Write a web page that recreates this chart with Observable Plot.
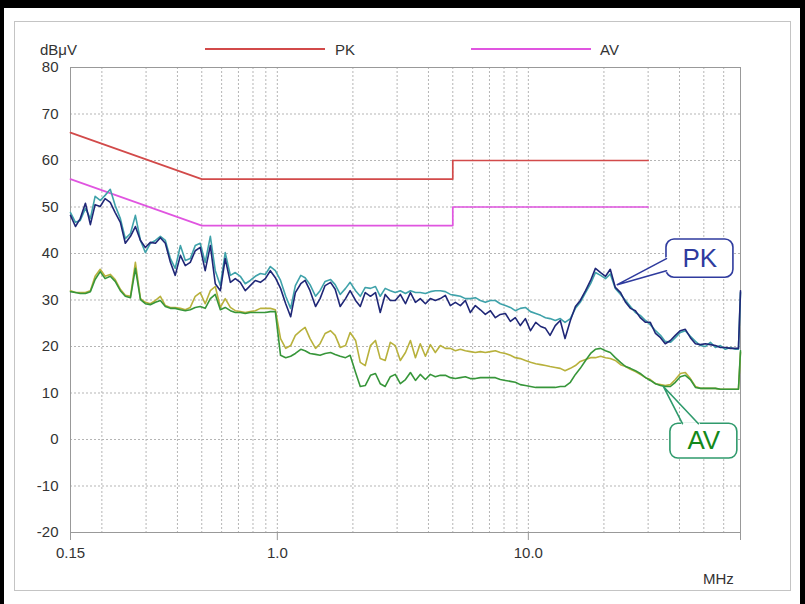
<!DOCTYPE html>
<html><head><meta charset="utf-8">
<script src="https://cdn.jsdelivr.net/npm/d3@7"></script>
<script src="https://cdn.jsdelivr.net/npm/@observablehq/plot@0.6"></script>
<style>
body{margin:0;background:#fff;}
#wrap{position:relative;width:805px;height:604px;overflow:hidden;background:#fff;font-family:'Liberation Sans Narrow','Liberation Sans',Arial,sans-serif;color:#333;}
.bar{position:absolute;background:#000;}
#panel{position:absolute;left:14px;top:21px;width:777px;height:570px;border:1px solid #c4c4c4;box-sizing:border-box;}
#chart{position:absolute;left:0;top:0;}
.lab{position:absolute;font-size:15px;line-height:1;white-space:nowrap;}
.sw{position:absolute;height:2px;}
</style></head><body>
<div id="wrap">
  <div class="bar" style="left:0;top:0;width:805px;height:8px"></div>
  <div class="bar" style="left:0;top:0;width:4px;height:604px"></div>
  <div class="bar" style="left:800px;top:0;width:5px;height:604px"></div>
  <div id="panel"></div>
  <div id="chart"></div>
  <div class="lab" style="left:40px;top:42px">dBμV</div>
  <div class="sw" style="left:205px;top:48px;width:120px;background:#d24a4a"></div>
  <div class="lab" style="left:335px;top:42px">PK</div>
  <div class="sw" style="left:471px;top:48px;width:120px;background:#e055e0"></div>
  <div class="lab" style="left:600px;top:42px">AV</div>
  <div class="lab" style="left:703px;top:571px">MHz</div>
</div>
<script>
// ---- data (MHz, dBµV) ----
const freqMHz = [
0.150,0.157,0.164,0.172,0.180,0.188,0.197,0.206,0.216,0.226,
0.237,0.248,0.260,0.272,0.285,0.298,0.312,0.327,0.342,0.358,
0.375,0.392,0.411,0.430,0.450,0.471,0.493,0.516,0.541,0.566,
0.593,0.620,0.650,0.680,0.712,0.745,0.780,0.817,0.856,0.896,
0.938,0.982,1.03,1.08,1.13,1.18,1.24,1.29,1.35,1.42,
1.48,1.55,1.63,1.70,1.78,1.87,1.95,2.05,2.14,2.24,
2.35,2.46,2.57,2.69,2.82,2.95,3.09,3.24,3.39,3.55,
3.71,3.89,4.07,4.26,4.46,4.67,4.89,5.12,5.36,5.61,
5.87,6.15,6.44,6.74,7.06,7.39,7.73,8.10,8.48,8.87,
9.29,9.73,10.2,10.7,11.2,11.7,12.2,12.8,13.4,14.0,
14.7,15.4,16.1,16.9,17.7,18.5,19.4,20.3,21.2,22.2,
23.3,24.4,25.5,26.7,27.9,29.3,30.6,32.1,33.6,35.1,
36.8,38.5,40.3,42.2,44.2,46.3,48.5,50.7,53.1,55.6,
58.2,60.9,63.8,66.8,68.7,70.0];

const pkNavy = [
48.2,45.8,47.5,50.8,46.2,50.5,50.1,51.8,51.0,48.8,
46.7,42.2,43.7,45.8,42.8,41.3,42.4,42.2,43.4,42.2,
38.1,35.3,39.6,37.4,38.1,40.6,41.3,36.3,41.7,33.5,
32.0,38.9,33.8,34.6,33.8,32.0,33.1,34.2,33.8,34.6,
36.3,34.8,32.5,29.2,26.4,31.6,33.5,34.2,32.0,28.6,
30.3,33.1,33.8,32.3,28.6,30.3,32.0,29.9,28.6,31.6,
30.8,31.6,27.3,31.2,29.9,29.9,31.2,29.2,31.6,29.5,
30.3,29.2,30.3,29.9,30.3,31.0,28.8,29.5,28.8,29.9,
27.3,28.8,27.9,26.9,27.7,26.2,26.9,27.1,25.4,26.2,
24.5,26.0,23.4,25.2,24.3,23.9,22.4,24.5,25.6,21.7,
25.6,28.6,29.9,32.0,34.2,36.8,35.9,35.1,36.6,32.7,
31.6,29.5,28.2,27.7,26.2,25.2,25.2,22.8,21.9,20.6,
21.3,22.4,23.4,23.7,21.9,20.6,20.4,20.6,20.4,20.2,
19.8,19.8,19.6,19.6,19.6,32.0];

const pkTeal = [
48.8,46.7,47.1,49.7,47.5,52.3,51.4,52.5,53.8,50.3,
47.5,43.2,44.3,48.2,42.8,40.2,42.2,42.8,43.7,42.8,
38.9,36.8,41.7,38.5,38.9,41.7,42.2,38.1,43.7,36.3,
33.1,40.2,35.3,35.9,35.1,33.5,34.2,35.1,35.7,35.5,
37.2,36.3,34.2,30.8,28.2,33.1,35.3,34.8,33.3,30.8,
32.0,34.0,34.4,33.3,31.2,32.5,33.8,32.0,30.8,32.7,
32.5,32.9,30.8,32.5,32.0,31.6,32.0,31.4,32.0,31.6,
31.6,31.4,31.8,32.0,32.0,31.8,31.2,31.0,30.8,30.3,
30.3,30.5,29.9,29.5,29.9,29.9,29.2,28.8,28.4,27.7,
28.2,28.4,27.5,27.1,26.7,26.2,26.0,25.6,26.0,25.2,
26.0,28.2,29.5,31.6,33.5,35.9,35.3,34.6,35.6,32.5,
31.2,29.9,28.6,27.3,26.7,25.6,24.7,23.4,22.4,21.1,
20.9,21.9,23.0,23.4,22.2,21.1,20.2,20.0,20.9,19.8,
20.2,19.4,19.8,19.4,19.4,31.6];

const avOlive = [
32.0,31.6,31.6,31.6,32.0,35.1,36.6,35.1,35.5,34.4,
32.3,31.0,30.8,38.1,30.3,29.5,29.2,29.9,30.8,28.8,
28.4,28.4,28.2,27.9,28.4,30.8,31.6,29.2,32.0,32.9,
28.4,30.3,28.4,27.7,27.5,27.3,27.5,27.7,28.2,28.2,
28.2,27.9,21.7,19.6,20.2,22.4,23.4,24.1,21.7,19.6,
20.6,22.8,23.4,22.4,19.8,20.2,23.0,21.3,16.6,15.9,
20.2,21.3,17.4,17.0,20.9,20.2,17.0,18.7,21.3,17.6,
20.6,17.9,20.4,18.7,20.2,19.6,19.6,19.1,19.4,19.1,
18.9,18.7,18.9,18.7,18.9,19.1,18.7,18.5,18.1,17.6,
17.4,17.0,16.6,16.3,16.1,15.9,15.7,15.5,15.3,14.8,
15.3,15.9,16.8,17.2,17.6,17.6,17.9,17.6,17.4,17.0,
16.1,15.7,15.1,14.6,14.0,13.3,12.9,12.0,11.8,11.6,
11.8,12.9,14.2,14.4,13.1,11.4,11.0,11.0,11.0,11.0,
10.8,10.8,10.8,10.8,10.8,18.7];

const avGreen = [
31.8,31.6,31.4,31.4,31.8,34.4,36.1,34.6,35.1,34.0,
32.0,30.8,30.5,36.8,30.1,29.2,29.0,29.5,29.9,28.6,
28.2,28.2,27.9,27.7,27.9,28.4,28.6,28.2,30.3,31.2,
27.9,28.4,27.7,27.3,27.3,27.1,27.3,27.3,27.3,27.3,
27.5,27.5,18.1,17.6,17.9,18.5,19.4,19.1,18.5,18.3,
18.1,18.5,18.7,18.3,17.9,17.6,18.1,14.4,11.4,11.6,
13.8,14.2,12.0,11.4,13.5,14.0,12.0,12.9,14.4,12.7,
14.0,12.9,14.0,13.5,13.8,13.8,13.3,13.1,13.3,13.5,
13.1,13.1,13.3,13.3,13.3,13.3,12.9,12.7,12.5,12.3,
11.8,11.6,11.4,11.2,11.2,11.2,11.2,11.2,11.4,11.4,
12.3,14.0,15.3,17.0,18.5,19.4,19.6,19.1,18.7,17.6,
16.6,15.7,15.3,14.8,14.2,13.3,12.7,12.0,11.6,11.4,
11.4,12.3,13.5,13.8,12.9,11.2,11.0,11.0,11.0,11.0,
10.8,10.8,10.8,10.8,10.8,19.1];

const limitFreq = [0.15, 0.5, 5, 5, 30];
const limitPK = [66, 56, 56, 60, 60];
const limitAV = [56, 46, 46, 50, 50];

const gridFreqs = [0.2,0.3,0.4,0.5,0.6,0.7,0.8,0.9,1,2,3,4,5,6,7,8,9,10,20,30,40,50,60];
const gridLevels = [-10,0,10,20,30,40,50,60,70];
const yTicks = [-20,-10,0,10,20,30,40,50,60,70,80];
const xTickValues = [0.15, 1, 10, 70];
const xTickLabels = ["0.15", "1.0", "10.0", "70.0"];

// callout annotations: [freq, dB]
const calloutLabels = ["PK", "AV"];
const calloutBoxF = [[35.5, 65.6], [36.8, 68.0]];
const calloutBoxV = [[34.8, 43.0], [-4.1, 3.4]];
const calloutWedge = [
  [[35.5, 38.9], [22.6, 33.3], [35.5, 36.3]],
  [[41.1, 3.4], [34.5, 11.4], [47.6, 3.4]]
];
const calloutText = [[48.2, 38.9], [50.0, -0.3]];

// ---- build ----
const toRows = vals => freqMHz.map((f, i) => ({f, v: vals[i]}));
const limRows = vals => limitFreq.map((f, i) => ({f, v: vals[i]}));
const boxColors = ["#2f3b9e", "#2f9a6c"];
const textColors = ["#2f3b9e", "#13891a"];

const calloutMarks = calloutLabels.flatMap((lab, k) => {
  const box = [{x1: calloutBoxF[k][0], x2: calloutBoxF[k][1], y1: calloutBoxV[k][0], y2: calloutBoxV[k][1]}];
  const w = calloutWedge[k].map(([f, v]) => ({f, v}));
  const gap = [w[0], w[2]];
  return [
    Plot.rect(box, {x1: "x1", x2: "x2", y1: "y1", y2: "y2", rx: 8, fill: "white", stroke: boxColors[k], strokeWidth: 1.6}),
    Plot.line(gap, {x: "f", y: "v", stroke: "white", strokeWidth: 3}),
    Plot.line(w, {x: "f", y: "v", stroke: boxColors[k], strokeWidth: 1.6}),
    Plot.text([{f: calloutText[k][0], v: calloutText[k][1], t: lab}], {
      x: "f", y: "v", text: "t", fill: textColors[k], fontSize: 26,
      fontFamily: "'Liberation Sans', Arial, sans-serif"
    })
  ];
});

const chart = Plot.plot({
  width: 805,
  height: 604,
  marginLeft: 70,
  marginRight: 65,
  marginTop: 67,
  marginBottom: 72,
  x: {type: "log", domain: [0.15, 70], label: null},
  y: {domain: [-20, 80], label: null},
  style: {background: "transparent", fontFamily: "'Liberation Sans Narrow','Liberation Sans',Arial,sans-serif", fontSize: "15px", color: "#333"},
  marks: [
    Plot.ruleX(gridFreqs, {stroke: "#b5b5b5", strokeDasharray: "2,2", strokeWidth: 1}),
    Plot.ruleY(gridLevels, {stroke: "#b5b5b5", strokeDasharray: "2,2", strokeWidth: 1}),
    Plot.frame({stroke: "#999"}),
    Plot.axisY({ticks: yTicks, tickSize: 0, tickPadding: 12, tickFormat: d => String(d), fontSize: 15, label: null}),
    Plot.axisX({ticks: xTickValues, tickSize: 8, tickPadding: 7, stroke: "#999",
      tickFormat: d => xTickLabels[xTickValues.indexOf(d)], fontSize: 15, label: null}),
    Plot.line(limRows(limitPK), {x: "f", y: "v", stroke: "#d24a4a", strokeWidth: 1.7}),
    Plot.line(limRows(limitAV), {x: "f", y: "v", stroke: "#e055e0", strokeWidth: 1.7}),
    Plot.line(toRows(avOlive), {x: "f", y: "v", stroke: "#b8b13c", strokeWidth: 1.6}),
    Plot.line(toRows(avGreen), {x: "f", y: "v", stroke: "#37963a", strokeWidth: 1.6}),
    Plot.line(toRows(pkTeal), {x: "f", y: "v", stroke: "#3fa2aa", strokeWidth: 1.6}),
    Plot.line(toRows(pkNavy), {x: "f", y: "v", stroke: "#1f2777", strokeWidth: 1.6}),
    ...calloutMarks
  ]
});
document.getElementById("chart").append(chart);
</script>
</body></html>
